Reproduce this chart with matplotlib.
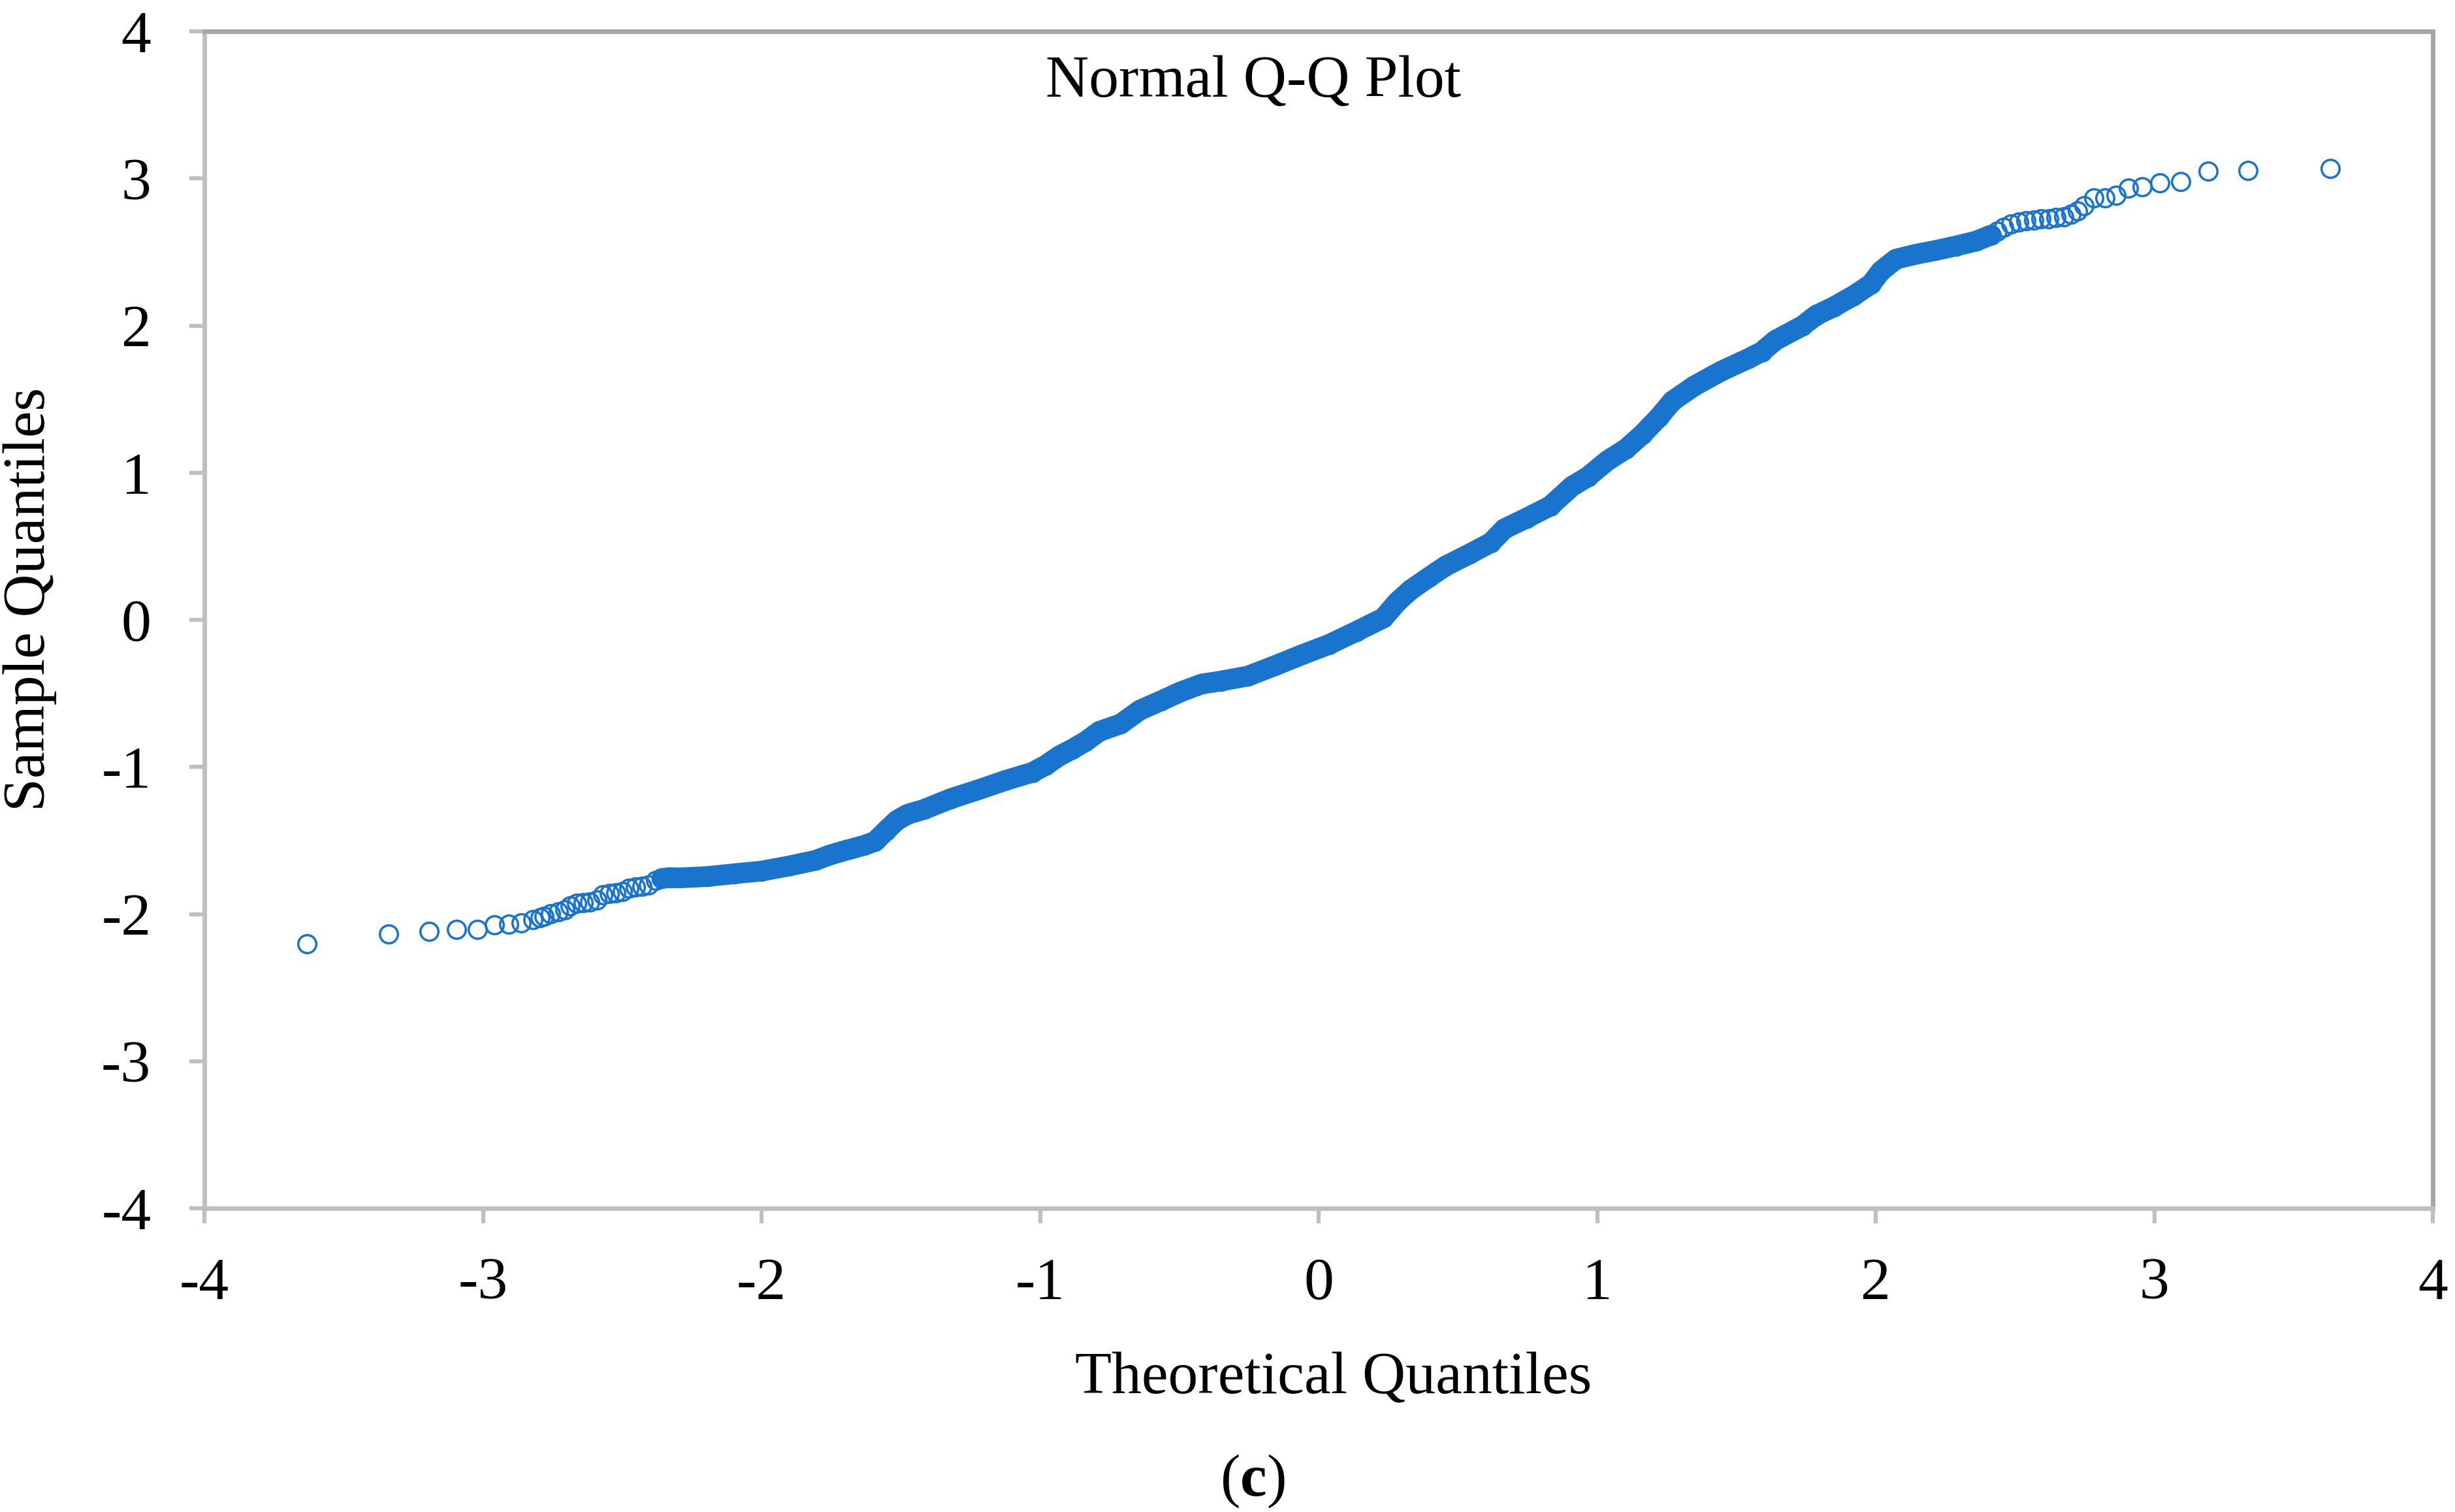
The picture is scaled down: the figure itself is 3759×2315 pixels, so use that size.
import matplotlib
matplotlib.use("Agg")
import matplotlib.pyplot as plt

# ---------------- data ----------------
tail_low_x = [-3.633, -3.338, -3.193, -3.094, -3.020, -2.959, -2.908, -2.862, -2.821,
              -2.796, -2.780, -2.758, -2.729, -2.706, -2.688, -2.663, -2.639, -2.616,
              -2.592, -2.569, -2.546, -2.522, -2.499, -2.475, -2.452, -2.428, -2.405,
              -2.381]
tail_low_y = [-2.202, -2.135, -2.118, -2.106, -2.106, -2.072, -2.067, -2.061, -2.039,
              -2.024, -2.017, -1.999, -1.984, -1.973, -1.943, -1.925, -1.921, -1.916,
              -1.906, -1.869, -1.862, -1.854, -1.847, -1.825, -1.817, -1.810, -1.802,
              -1.773]

body_x = [-2.358, -2.334, -2.292, -2.195, -2.098, -2.000, -1.903, -1.806, -1.757, -1.709,
          -1.631, -1.592, -1.553, -1.514, -1.476, -1.417, -1.320, -1.223, -1.125, -1.028,
          -0.980, -0.931, -0.885, -0.836, -0.788, -0.710, -0.642, -0.564, -0.496, -0.419,
          -0.350, -0.253, -0.156, -0.059, 0.038, 0.135, 0.233, 0.282, 0.330, 0.398,
          0.456, 0.541, 0.619, 0.667, 0.745, 0.832, 0.910, 0.968, 1.037, 1.105,
          1.163, 1.222, 1.270, 1.348, 1.445, 1.542, 1.591, 1.640, 1.737, 1.786,
          1.849, 1.920, 1.983, 2.019, 2.073, 2.145, 2.216, 2.288, 2.360, 2.414]
body_y = [-1.758, -1.753, -1.754, -1.745, -1.726, -1.708, -1.674, -1.635, -1.600, -1.573,
          -1.533, -1.506, -1.433, -1.363, -1.322, -1.289, -1.215, -1.156, -1.092, -1.037,
          -0.989, -0.925, -0.880, -0.826, -0.759, -0.707, -0.614, -0.549, -0.490, -0.436,
          -0.416, -0.382, -0.311, -0.237, -0.167, -0.079, 0.013, 0.121, 0.203, 0.292,
          0.366, 0.447, 0.525, 0.619, 0.690, 0.774, 0.908, 0.974, 1.082, 1.164,
          1.262, 1.378, 1.487, 1.589, 1.690, 1.775, 1.822, 1.900, 1.998, 2.070,
          2.127, 2.203, 2.282, 2.371, 2.452, 2.485, 2.511, 2.541, 2.574, 2.615]

tail_high_x = [2.436, 2.459, 2.486, 2.513, 2.540, 2.567, 2.594, 2.621, 2.648, 2.675,
               2.702, 2.724, 2.747, 2.782, 2.823, 2.862, 2.908, 2.957, 3.020, 3.096,
               3.193, 3.337, 3.631]
tail_high_y = [2.640, 2.667, 2.689, 2.704, 2.711, 2.718, 2.726, 2.726, 2.733, 2.741,
               2.756, 2.778, 2.815, 2.867, 2.869, 2.886, 2.936, 2.943, 2.970, 2.978,
               3.051, 3.054, 3.069]

x_ticks = [-4, -3, -2, -1, 0, 1, 2, 3, 4]
y_ticks = [-4, -3, -2, -1, 0, 1, 2, 3, 4]
x_tick_labels = ["-4", "-3", "-2", "-1", "0", "1", "2", "3", "4"]
y_tick_labels = ["-4", "-3", "-2", "-1", "0", "1", "2", "3", "4"]

title = "Normal Q-Q Plot"
x_label = "Theoretical Quantiles"
y_label = "Sample Quantiles"
panel_label = r"($\mathbf{c}$)"

# ---------------- style ----------------
plt.rcParams["font.family"] = ["Liberation Serif", "DejaVu Serif"]
plt.rcParams["mathtext.fontset"] = "custom"
plt.rcParams["mathtext.rm"] = "Liberation Serif"
plt.rcParams["mathtext.bf"] = "Liberation Serif:bold"

W, H, DPI = 3759, 2315, 300
fig = plt.figure(figsize=(W / DPI, H / DPI), dpi=DPI)
L, R, T, B = 313, 3725, 48, 1850
ax = fig.add_axes([L / W, 1 - B / H, (R - L) / W, (B - T) / H])

blue = "#1874CD"
FS = 22

# dense band (overlapping hollow markers appear solid)
ax.plot(body_x, body_y, color=blue, lw=7.6, solid_capstyle="round",
        solid_joinstyle="round", zorder=2)
all_x = tail_low_x + body_x + tail_high_x
all_y = tail_low_y + body_y + tail_high_y
ax.plot(all_x, all_y, linestyle="none", marker="o", markerfacecolor="none",
        markeredgecolor=blue, markersize=6.6, markeredgewidth=0.85, zorder=3)

ax.set_xlim(-4, 4)
ax.set_ylim(-4, 4)
ax.set_xticks(x_ticks)
ax.set_xticklabels(x_tick_labels)
ax.set_yticks(y_ticks)
ax.set_yticklabels(y_tick_labels)

for side in ["left", "bottom"]:
    ax.spines[side].set_color("#BFBFBF")
    ax.spines[side].set_linewidth(1.7)
for side in ["top", "right"]:
    ax.spines[side].set_color("#A6A6A6")
    ax.spines[side].set_linewidth(1.7)

ax.tick_params(axis="both", which="major", direction="out", length=5.6, width=1.5,
               color="#BFBFBF", labelsize=FS, labelcolor="black")
ax.tick_params(axis="y", pad=14)
ax.tick_params(axis="x", pad=12.5)

# texts
ax.text((1919 - L) / (R - L), (B - 148) / (B - T), title, fontsize=FS,
        ha="center", va="baseline", transform=ax.transAxes)
fig.text(2042 / W, 1 - 2133 / H, x_label, fontsize=FS, ha="center", va="baseline")
fig.text(46 / W, 1 - 918 / H, y_label, fontsize=FS, ha="center", va="center",
         rotation=90)
fig.text(1918 / W, 1 - 2290 / H, panel_label, fontsize=FS, ha="center", va="baseline")

fig.savefig("out.png", dpi=DPI, facecolor="white")
